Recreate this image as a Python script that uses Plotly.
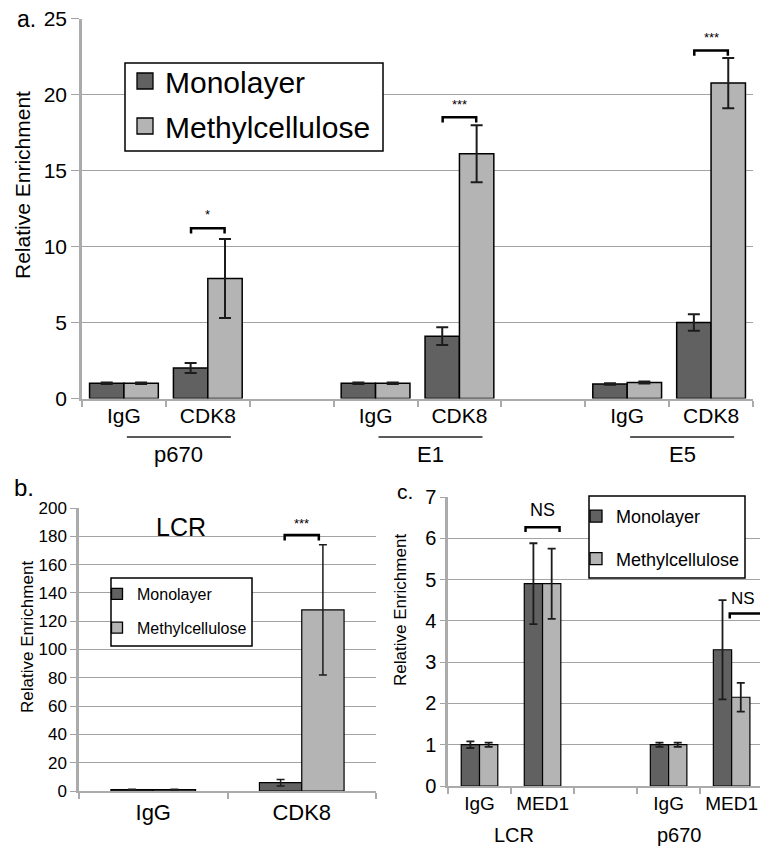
import plotly.graph_objects as go

# ---------------- data ----------------
# panel a
a_groups = ["p670", "E1", "E5"]
a_antibodies = ["IgG", "CDK8"]
a_mono = [1.0, 2.0, 1.0, 4.1, 0.95, 5.0]
a_mono_err = [0.05, 0.33, 0.05, 0.58, 0.05, 0.55]
a_methyl = [1.0, 7.9, 1.0, 16.1, 1.05, 20.75]
a_methyl_err = [0.05, 2.6, 0.05, 1.87, 0.07, 1.65]
a_sig = ["*", "***", "***"]
a_sig_y = [11.2, 18.5, 22.9]
a_yticks = [0, 5, 10, 15, 20, 25]

# panel b
b_title = "LCR"
b_antibodies = ["IgG", "CDK8"]
b_mono = [1.0, 5.9]
b_mono_err = [0.3, 2.3]
b_methyl = [1.0, 128.0]
b_methyl_err = [0.3, 46.0]
b_sig = ["***"]
b_sig_y = [181.0]
b_yticks = list(range(0, 201, 20))

# panel c
c_groups = ["LCR", "p670"]
c_antibodies = ["IgG", "MED1"]
c_mono = [1.0, 4.9, 1.0, 3.3]
c_mono_err = [0.08, 0.98, 0.05, 1.2]
c_methyl = [1.0, 4.9, 1.0, 2.15]
c_methyl_err = [0.05, 0.85, 0.05, 0.35]
c_sig = ["NS", "NS"]
c_sig_y = [6.27, 4.18]
c_yticks = list(range(0, 8))

series_names = ["Monolayer", "Methylcellulose"]

# ---------------- style ----------------
W, H = 760, 849
FONT = "Liberation Sans, Arial, sans-serif"
MONO = "#616161"
METH = "#b4b4b4"
GRID = "#a3a3a3"
AXIS = "#ababab"
ERR = "#1c1c1c"


def px_x(p):
    return p / W


def px_y(p):
    return 1 - p / H


fig = go.Figure()

# x positions from group/antibody structure (a gap category between groups)
a_x = [g * 3 + i for g in range(len(a_groups)) for i in range(len(a_antibodies))]
a_ticktext = [ab for _ in a_groups for ab in a_antibodies]
b_x = list(range(len(b_antibodies)))
c_x = [g * 3 + i for g in range(len(c_groups)) for i in range(len(c_antibodies))]
c_ticktext = [ab for _ in c_groups for ab in c_antibodies]

wa, wb, wc = 0.41, 0.285, 0.29


def add_pair(xs, mono, mono_err, meth, meth_err, w, xa, ya, lw, cap, thick):
    fig.add_trace(go.Bar(x=xs, y=mono, width=w, offset=-w, name=series_names[0],
                         marker=dict(color=MONO, line=dict(color="black", width=lw)),
                         error_y=dict(type="data", array=mono_err, color=ERR, thickness=thick, width=cap),
                         xaxis=xa, yaxis=ya, showlegend=False))
    fig.add_trace(go.Bar(x=xs, y=meth, width=w, offset=0, name=series_names[1],
                         marker=dict(color=METH, line=dict(color="black", width=lw)),
                         error_y=dict(type="data", array=meth_err, color=ERR, thickness=thick, width=cap),
                         xaxis=xa, yaxis=ya, showlegend=False))


add_pair(a_x, a_mono, a_mono_err, a_methyl, a_methyl_err, wa, "x", "y", 1.5, 6, 2)
add_pair(b_x, b_mono, b_mono_err, b_methyl, b_methyl_err, wb, "x2", "y2", 1.2, 4, 1.5)
add_pair(c_x, c_mono, c_mono_err, c_methyl, c_methyl_err, wc, "x3", "y3", 1.2, 4, 1.8)

# legend entries (square swatches)
for lg, xa, ya, size in [("legend", "x", "y", 19), ("legend2", "x2", "y2", 11), ("legend3", "x3", "y3", 12)]:
    for name, col in zip(series_names, [MONO, METH]):
        fig.add_trace(go.Scatter(x=[None], y=[None], mode="markers", name=name,
                                 marker=dict(symbol="square", size=size, color=col,
                                             line=dict(color="black", width=1.3)),
                                 legend=lg, legendgroup=lg + name, xaxis=xa, yaxis=ya))


def xaxis_cfg(domain, rng, tickvals, ticktext, font_size, minor_vals, standoff):
    return dict(domain=domain, range=rng, tickmode="array", tickvals=tickvals, ticktext=ticktext,
                ticks="", showgrid=False, zeroline=False, showline=True, linecolor=AXIS, linewidth=2,
                tickfont=dict(size=font_size, color="black", family=FONT), ticklabelstandoff=standoff,
                ticklabeloverflow="allow", automargin=False,
                minor=dict(tickmode="array", tickvals=minor_vals, ticks="outside", ticklen=6,
                           tickcolor=AXIS, tickwidth=1.5, showgrid=False),
                fixedrange=True)


def yaxis_cfg(domain, rng, tickvals, font_size, anchor, ticklen):
    return dict(domain=domain, range=rng, tickmode="array", tickvals=tickvals, anchor=anchor,
                showgrid=True, gridcolor=GRID, gridwidth=1.3, zeroline=False, automargin=False,
                showline=True, linecolor=AXIS, linewidth=2.5, ticks="outside", ticklen=ticklen,
                tickcolor=GRID, tickwidth=1.3,
                tickfont=dict(size=font_size, color="black", family=FONT), fixedrange=True)


def legend_cfg(x, y, size, gap):
    return dict(x=px_x(x), y=px_y(y), xanchor="left", yanchor="top", bgcolor="rgba(0,0,0,0)",
                borderwidth=0, font=dict(size=size, color="black", family=FONT),
                tracegroupgap=gap, itemwidth=30)


fig.update_layout(
    width=W, height=H, margin=dict(l=0, r=0, t=0, b=0, autoexpand=False),
    paper_bgcolor="white", plot_bgcolor="white", barmode="overlay",
    font=dict(family=FONT, color="black"),
    xaxis=xaxis_cfg([px_x(82), px_x(753)], [-0.5, 7.5], a_x, a_ticktext, 21,
                    [v - 0.5 for v in range(9)], -3),
    yaxis=yaxis_cfg([px_y(398.5), px_y(18.5)], [0, 25], a_yticks, 21, "x", 8),
    xaxis2=xaxis_cfg([px_x(79), px_x(376)], [-0.5, 1.5], b_x, b_antibodies, 22,
                     [-0.5, 0.5, 1.5], 1) | dict(anchor="y2"),
    yaxis2=yaxis_cfg([px_y(791), px_y(508)], [0, 200], b_yticks, 17, "x2", 6),
    xaxis3=xaxis_cfg([px_x(448), 1.0], [-0.5, 4.45], c_x, c_ticktext, 19,
                     [v - 0.5 for v in range(6)], -1) | dict(anchor="y3"),
    yaxis3=yaxis_cfg([px_y(786), px_y(497)], [0, 7], c_yticks, 20, "x3", 5),
    legend=legend_cfg(125, 55, 30, 3),
    legend2=legend_cfg(97, 577, 16, 10),
    legend3=legend_cfg(576, 498, 18, 16),
)

shapes = []
ann = []

# legend frames
for x0, y0, x1, y1 in [(125, 63, 383, 151), (111, 578, 252, 646), (589, 496, 745, 578)]:
    shapes.append(dict(type="rect", xref="paper", yref="paper", x0=px_x(x0), x1=px_x(x1),
                       y0=px_y(y1), y1=px_y(y0), fillcolor="white", layer="above",
                       line=dict(color="black", width=1.5)))


def bracket(xc, half, y, drop, xref, yref, width=2.5):
    x0, x1 = xc - half, xc + half
    shapes.append(dict(type="path", xref=xref, yref=yref,
                       path=f"M {x0},{y - drop} L {x0},{y} L {x1},{y} L {x1},{y - drop}",
                       line=dict(color="black", width=width)))


# panel a brackets + stars
for g, (s, y) in enumerate(zip(a_sig, a_sig_y)):
    xc = g * 3 + 1
    bracket(xc, 0.2, y, 0.35, "x", "y")
    ann.append(dict(x=xc, y=y + 0.25, xref="x", yref="y", text=s, showarrow=False,
                    xanchor="center", yanchor="bottom", font=dict(size=13, color="black")))

# panel a group labels with underline
for g, name in enumerate(a_groups):
    xc = g * 3 + 0.655
    shapes.append(dict(type="line", xref="x", yref="paper", x0=xc - 0.62, x1=xc + 0.62,
                       y0=px_y(437), y1=px_y(437), line=dict(color="#5a5a5a", width=1.8)))
    ann.append(dict(x=xc, y=px_y(454), xref="x", yref="paper", text=name, showarrow=False,
                    xanchor="center", yanchor="middle", font=dict(size=22, color="black")))

# panel b bracket + title
bracket(1, 0.115, b_sig_y[0], 4, "x2", "y2")
ann.append(dict(x=1, y=b_sig_y[0] + 1, xref="x2", yref="y2", text=b_sig[0], showarrow=False,
                xanchor="center", yanchor="bottom", font=dict(size=13, color="black")))
ann.append(dict(x=px_x(181), y=px_y(527), xref="paper", yref="paper", text=b_title, showarrow=False,
                xanchor="center", yanchor="middle", font=dict(size=25, color="black")))

# panel c brackets
bracket(1, 0.27, c_sig_y[0], 0.12, "x3", "y3")
ann.append(dict(x=1, y=c_sig_y[0] + 0.12, xref="x3", yref="y3", text=c_sig[0], showarrow=False,
                xanchor="center", yanchor="bottom", font=dict(size=18, color="black")))
shapes.append(dict(type="path", xref="x3", yref="y3",
                   path=f"M 3.97,{c_sig_y[1] - 0.12} L 3.97,{c_sig_y[1]} L 4.6,{c_sig_y[1]}",
                   line=dict(color="black", width=2.5)))
ann.append(dict(x=3.98, y=c_sig_y[1] + 0.1, xref="x3", yref="y3", text=c_sig[1], showarrow=False,
                xanchor="left", yanchor="bottom", borderpad=0, font=dict(size=17, color="black")))

# panel c group labels
for g, (name, xc) in enumerate(zip(c_groups, [0.55, 3.17])):
    ann.append(dict(x=xc, y=px_y(835), xref="x3", yref="paper", text=name, showarrow=False,
                    xanchor="center", yanchor="middle", font=dict(size=20, color="black")))

# y titles
for x, y, s in [(22, 185, 21), (27, 637, 17), (400, 610, 17)]:
    ann.append(dict(x=px_x(x), y=px_y(y), xref="paper", yref="paper", text="Relative Enrichment",
                    textangle=-90, showarrow=False, xanchor="center", yanchor="middle",
                    font=dict(size=s, color="black")))

# panel letters
for x, y, t, s in [(26, 19, "a.", 23), (24, 487, "b.", 24), (405, 491, "c.", 21)]:
    ann.append(dict(x=px_x(x), y=px_y(y), xref="paper", yref="paper", text=t, showarrow=False,
                    xanchor="center", yanchor="middle", font=dict(size=s, color="black")))

fig.update_layout(shapes=shapes, annotations=ann)
fig.write_html("out.html")
